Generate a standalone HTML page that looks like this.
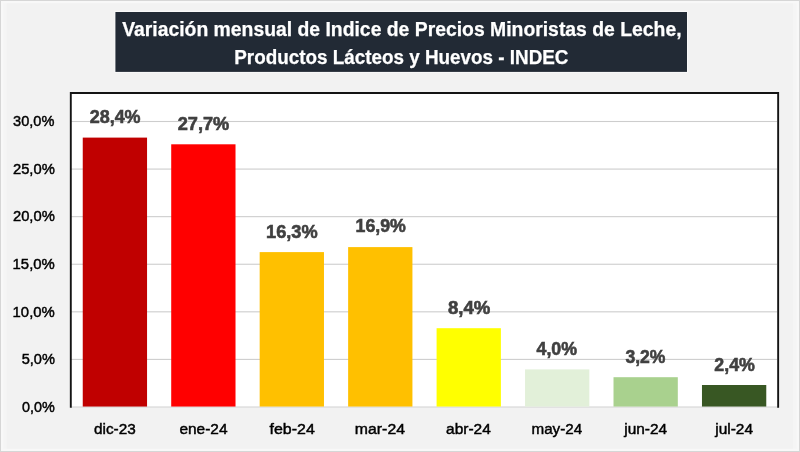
<!DOCTYPE html>
<html lang="es"><head><meta charset="utf-8"><title>Variación mensual IPC Leche, Lácteos y Huevos</title>
<style>
html,body{margin:0;padding:0;background:#f2f2f2;}
body{width:800px;height:452px;overflow:hidden;}
svg{display:block;}
text{font-family:"Liberation Sans",Arial,sans-serif;}
.t{font-weight:bold;font-size:20px;fill:#fff;stroke:#fff;stroke-width:.25px;}
.d{font-weight:bold;font-size:18.8px;fill:#404040;stroke:#404040;stroke-width:.6px;}
.a{font-size:15.3px;fill:#000;stroke:#000;stroke-width:.45px;}
</style></head><body>
<svg width="800" height="452" viewBox="0 0 800 452">
<rect x="0" y="0" width="800" height="452" fill="#f2f2f2"/>
<rect x="3" y="0" width="3.5" height="452" fill="#f5f5f5"/>
<rect x="793" y="0" width="6" height="452" fill="#f5f5f5"/>
<rect x="2.1" y="2.1" width="795.8" height="447.8" fill="none" stroke="#f8f8f8" stroke-width="2.2"/>
<rect x="0.5" y="0.5" width="799" height="451" fill="none" stroke="#d6d6d6" stroke-width="1"/>
<rect x="114.6" y="11.2" width="573.2" height="61.5" fill="#fbfbfb"/>
<rect x="115.4" y="12" width="571.6" height="59.9" fill="#222a35"/>
<rect x="70.7" y="93" width="707.5" height="314.5" fill="#fff"/>
<rect x="71" y="120.95" width="706" height="1.1" fill="#cdcdcd"/>
<rect x="71" y="168.53" width="706" height="1.1" fill="#cdcdcd"/>
<rect x="71" y="216.11" width="706" height="1.1" fill="#cdcdcd"/>
<rect x="71" y="263.69" width="706" height="1.1" fill="#cdcdcd"/>
<rect x="71" y="311.27" width="706" height="1.1" fill="#cdcdcd"/>
<rect x="71" y="358.85" width="706" height="1.1" fill="#cdcdcd"/>
<rect x="71" y="406.5" width="707" height="1.1" fill="#d2d2d2"/>
<rect x="82.75" y="137.6" width="64.3" height="268.95" fill="#C00000"/>
<rect x="171.21" y="144.3" width="64.3" height="262.25" fill="#FF0000"/>
<rect x="259.67" y="252.1" width="64.3" height="154.45" fill="#FFC000"/>
<rect x="348.13" y="247.1" width="64.3" height="159.45" fill="#FFC000"/>
<rect x="436.59" y="328.2" width="64.3" height="78.35" fill="#FFFF00"/>
<rect x="525.05" y="369.4" width="64.3" height="37.15" fill="#E2F0D9"/>
<rect x="613.51" y="377.2" width="64.3" height="29.35" fill="#A9D18E"/>
<rect x="701.97" y="385.0" width="64.3" height="21.55" fill="#385723"/>
<path d="M70.8 407.8 V93 H778.15 V407.8" fill="none" stroke="#141414" stroke-width="1.9"/>
<text class="t" x="122.14" y="35.90" textLength="559.42" lengthAdjust="spacingAndGlyphs">Variación mensual de Indice de Precios Minoristas de Leche,</text>
<text class="t" x="234.22" y="63.80" textLength="334.27" lengthAdjust="spacingAndGlyphs">Productos Lácteos y Huevos - INDEC</text>
<text class="d" x="89.68" y="123.20" textLength="50.91" lengthAdjust="spacingAndGlyphs">28,4%</text>
<text class="a" x="94.00" y="434.20" textLength="41.78" lengthAdjust="spacingAndGlyphs">dic-23</text>
<text class="d" x="177.69" y="129.70" textLength="51.53" lengthAdjust="spacingAndGlyphs">27,7%</text>
<text class="a" x="179.44" y="434.20" textLength="48.11" lengthAdjust="spacingAndGlyphs">ene-24</text>
<text class="d" x="266.07" y="237.50" textLength="51.62" lengthAdjust="spacingAndGlyphs">16,3%</text>
<text class="a" x="269.51" y="434.20" textLength="45.28" lengthAdjust="spacingAndGlyphs">feb-24</text>
<text class="d" x="355.54" y="232.20" textLength="50.34" lengthAdjust="spacingAndGlyphs">16,9%</text>
<text class="a" x="354.87" y="434.20" textLength="50.13" lengthAdjust="spacingAndGlyphs">mar-24</text>
<text class="d" x="447.94" y="313.70" textLength="42.39" lengthAdjust="spacingAndGlyphs">8,4%</text>
<text class="a" x="446.03" y="434.20" textLength="44.80" lengthAdjust="spacingAndGlyphs">abr-24</text>
<text class="d" x="536.53" y="355.30" textLength="40.47" lengthAdjust="spacingAndGlyphs">4,0%</text>
<text class="a" x="531.50" y="434.20" textLength="50.70" lengthAdjust="spacingAndGlyphs">may-24</text>
<text class="d" x="625.39" y="362.80" textLength="40.03" lengthAdjust="spacingAndGlyphs">3,2%</text>
<text class="a" x="624.30" y="434.20" textLength="42.85" lengthAdjust="spacingAndGlyphs">jun-24</text>
<text class="d" x="714.33" y="371.10" textLength="40.55" lengthAdjust="spacingAndGlyphs">2,4%</text>
<text class="a" x="715.21" y="434.20" textLength="37.79" lengthAdjust="spacingAndGlyphs">jul-24</text>
<text class="a" x="13.04" y="126.30" textLength="41.32" lengthAdjust="spacingAndGlyphs">30,0%</text>
<text class="a" x="12.94" y="173.88" textLength="41.84" lengthAdjust="spacingAndGlyphs">25,0%</text>
<text class="a" x="12.94" y="221.46" textLength="41.84" lengthAdjust="spacingAndGlyphs">20,0%</text>
<text class="a" x="12.59" y="269.04" textLength="42.19" lengthAdjust="spacingAndGlyphs">15,0%</text>
<text class="a" x="12.59" y="316.62" textLength="42.19" lengthAdjust="spacingAndGlyphs">10,0%</text>
<text class="a" x="21.64" y="364.20" textLength="33.23" lengthAdjust="spacingAndGlyphs">5,0%</text>
<text class="a" x="22.00" y="411.78" textLength="32.75" lengthAdjust="spacingAndGlyphs">0,0%</text>
</svg></body></html>
